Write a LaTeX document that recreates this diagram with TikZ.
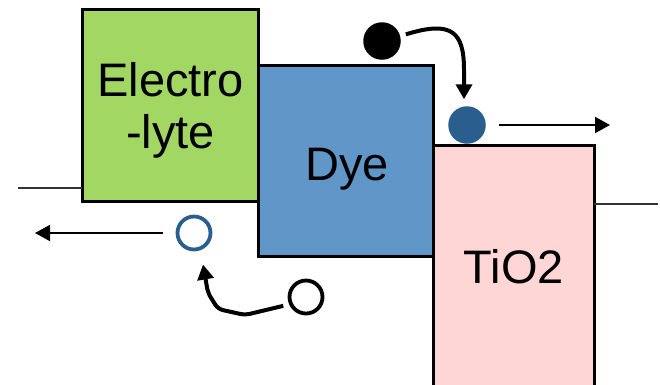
\documentclass[tikz,border=0pt]{standalone}
\usepackage{fontspec}
\setmainfont{Liberation Sans}
\usetikzlibrary{arrows.meta}
\definecolor{elgreen}{HTML}{A2D763}
\definecolor{dyeblue}{HTML}{6096C8}
\definecolor{tipink}{HTML}{FFD6D6}
\definecolor{edark}{HTML}{2A5E8E}
\tikzset{
  box/.style={draw=black, line width=3pt, inner sep=0pt, outer sep=0pt, anchor=north west},
  lbl/.style={font=\fontsize{47}{52}\selectfont, inner sep=0pt, text=black},
  fullc/.style={circle, inner sep=0pt, outer sep=0pt, minimum size=37.5pt},
  openc/.style={circle, draw, line width=3.8pt, inner sep=0pt, outer sep=0pt, minimum size=33pt},
  thinarrow/.style={line width=2pt, -{Triangle[length=15pt,width=16pt]}},
  bigarrow/.style={line width=4pt, line join=round, -{Triangle[length=15pt,width=16pt]}},
  level/.style={line width=2pt, draw=black!80}
}
\begin{document}
\begin{tikzpicture}[x=1pt,y=-1pt]
\useasboundingbox (0,0) rectangle (660,384);
\begin{scope}
\clip (0,0) rectangle (660,384);
% boxes
\node[box, fill=elgreen, minimum width=176pt, minimum height=192pt] (el) at (82,9) {};
\node[box, fill=dyeblue, minimum width=175pt, minimum height=191pt] (dye) at (258,65) {};
\node[box, fill=tipink, minimum width=161pt, minimum height=250pt] (tio) at (433,145) {};
\end{scope}
% labels
\node[lbl, align=center] (elt) at (170.5,110) {Electro\\-lyte};
\node[lbl, anchor=base] (dyet) at (347,180) {Dye};
\node[lbl, anchor=base] (tiot) at (514,283) {TiO2};
% level lines
\coordinate (lL) at (18,188);
\coordinate (lR) at (658,204);
\draw[level] (lL) -- (lL -| el.west);
\draw[level] (lR -| tio.east) -- (lR);
% particles
\node[fullc, fill=black] (bc) at (382,41) {};
\node[fullc, fill=edark] (ec) at (467,125) {};
\node[openc, draw=edark] (hc) at (194,233) {};
\node[openc, draw=black] (oc) at (306,297) {};
% arrow ends
\coordinate (rEnd) at (610,125);
\coordinate (lEnd) at (35,233);
% arrows
\draw[thinarrow, shorten <=13pt] (ec.east) -- (rEnd);
\draw[thinarrow, shorten <=15pt] (hc.west) -- (lEnd);
\draw[bigarrow, shorten <=6pt] (bc.15) .. controls (452,20) and (464,32) .. (464,70) -- ([xshift=-3pt,yshift=7pt]ec.north);
\draw[bigarrow, shorten <=8pt, rounded corners=5pt] (oc.205) -- (245,315) -- (218,309) -- (208,293) -- ([shift={(9pt,-15pt)}]hc.south);
\end{tikzpicture}
\end{document}
